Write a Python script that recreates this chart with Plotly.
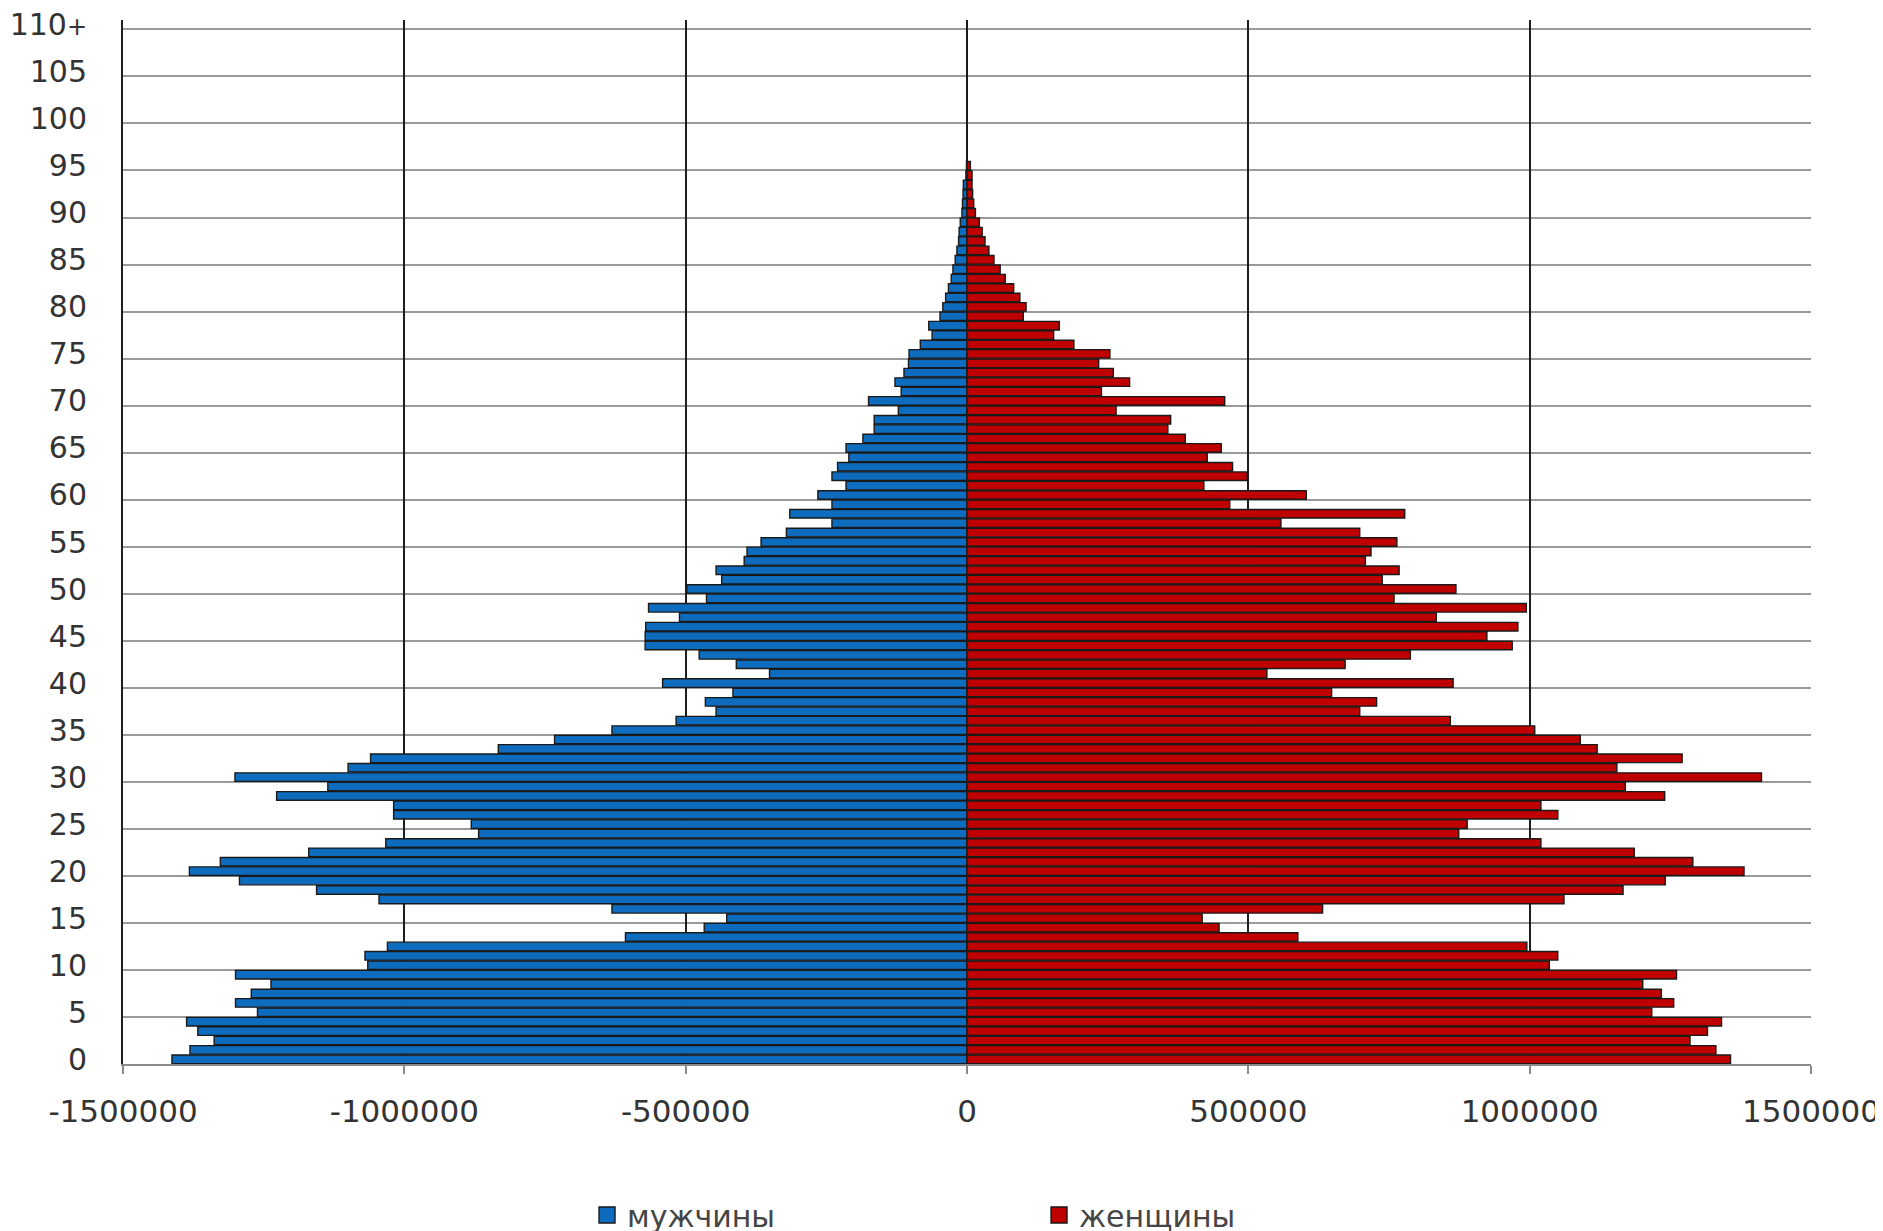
import plotly.graph_objects as go

ages = list(range(0, 111))
age_labels = [str(a) for a in range(0, 110, 5)] + ["110<span style='font-size:24px'>+</span>"]
age_label_pos = list(range(0, 111, 5))

# population by single year of age (0 .. 110+)
male = [
    1413000, 1381000, 1338000, 1367000, 1387000, 1261000, 1300000, 1272000, 1237000, 1300000,
    1065000, 1070000, 1030000, 607000, 467000, 427000, 631000, 1045000, 1156000, 1293000,
    1382000, 1327000, 1170000, 1033000, 868000, 881000, 1019000, 1019000, 1227000, 1136000,
    1301000, 1100000, 1060000, 833000, 733000, 631000, 517000, 446000, 465000, 416000,
    541000, 351000, 410000, 476000, 572000, 572000, 571000, 511000, 566000, 463000,
    498000, 436000, 446000, 396000, 391000, 366000, 321000, 240000, 315000, 240000,
    265000, 215000, 240000, 230000, 210000, 215000, 185000, 165000, 165000, 122000,
    175000, 117000, 128000, 112000, 104000, 103000, 83000, 62000, 68000, 48000,
    43000, 38000, 33000, 28000, 25000, 21000, 18000, 15000, 14000, 12000,
    9000, 8000, 7000, 6500, 2000, 1000, 0, 0, 0, 0,
    0, 0, 0, 0, 0, 0, 0, 0, 0, 0, 0,
]
female = [
    1357000, 1331000, 1285000, 1316000, 1341000, 1217000, 1256000, 1234000, 1201000, 1261000,
    1035000, 1050000, 995000, 588000, 448000, 418000, 632000, 1061000, 1166000, 1241000,
    1381000, 1290000, 1186000, 1020000, 874000, 889000, 1050000, 1020000, 1240000, 1170000,
    1412000, 1155000, 1271000, 1120000, 1090000, 1009000, 859000, 698000, 728000, 648000,
    864000, 533000, 672000, 788000, 969000, 924000, 979000, 834000, 994000, 759000,
    869000, 738000, 768000, 708000, 718000, 764000, 698000, 558000, 778000, 467000,
    603000, 421000, 498000, 472000, 427000, 452000, 388000, 357000, 362000, 265000,
    458000, 239000, 289000, 260000, 234000, 254000, 190000, 154000, 164000, 100000,
    105000, 94000, 83000, 68000, 59000, 48000, 39000, 32000, 27000, 22000,
    15000, 12000, 10000, 9000, 9000, 6000, 0, 0, 0, 0,
    0, 0, 0, 0, 0, 0, 0, 0, 0, 0, 0,
]
x_ticks = [-1500000, -1000000, -500000, 0, 500000, 1000000, 1500000]
x_tick_text = [str(v) for v in x_ticks]
series_names = ["мужчины", "женщины"]

BLUE = "#0E6CBE"
RED = "#BE0000"
OUTLINE = "#1a1a1a"
TEXT = "#333333"
FONT = "DejaVu Sans"

fig = go.Figure()
fig.add_trace(go.Bar(
    y=ages, x=[-v for v in male], orientation="h",
    marker=dict(color=BLUE, line=dict(color=OUTLINE, width=1.4)),
    name=series_names[0], showlegend=False,
))
fig.add_trace(go.Bar(
    y=ages, x=female, orientation="h",
    marker=dict(color=RED, line=dict(color=OUTLINE, width=1.4)),
    name=series_names[1], showlegend=False,
))
# legend entries
for nm, col in zip(series_names, [BLUE, RED]):
    fig.add_trace(go.Scatter(
        x=[None], y=[None], mode="markers", name=nm,
        marker=dict(symbol="square", size=20, color=col, line=dict(color=OUTLINE, width=1.4)),
    ))

fig.update_layout(
    width=1883, height=1231,
    margin=dict(l=115, r=80, t=12, b=175, autoexpand=False),
    paper_bgcolor="white", plot_bgcolor="white",
    barmode="relative", bargap=0.09,
    font=dict(family=FONT, size=30, color=TEXT),
    legend=dict(
        orientation="h", x=0.2749, xanchor="left", y=-0.1446, yanchor="middle",
        entrywidth=407, entrywidthmode="pixels",
        font=dict(family=FONT, size=30, color="#454545"),
        itemsizing="trace",
    ),
)
fig.update_xaxes(
    range=[-1500000, 1500000],
    tickvals=x_ticks, ticktext=x_tick_text,
    showgrid=True, gridcolor="#1e1e1e", gridwidth=1.8,
    zeroline=True, zerolinecolor="#1e1e1e", zerolinewidth=1.8,
    showline=True, linecolor="#8a8a8a", linewidth=1.5,
    ticks="outside", ticklen=8, tickcolor="#8a8a8a", tickwidth=1.5,
    ticklabelstandoff=11, ticklabeloverflow="allow",
    tickfont=dict(family=FONT, size=31, color=TEXT),
)
fig.update_yaxes(
    range=[-0.5, 110.5],
    tickvals=age_label_pos, ticktext=age_labels,
    showgrid=False, zeroline=False,
    showline=True, linecolor="#1e1e1e", linewidth=2,
    ticks="", ticklabelstandoff=28, ticklabeloverflow="allow",
    minor=dict(tick0=-0.5, dtick=5, showgrid=True, gridcolor="#9a9a9a", gridwidth=2, ticks=""),
    tickfont=dict(family=FONT, size=30, color=TEXT),
)

fig.write_html("out.html")
